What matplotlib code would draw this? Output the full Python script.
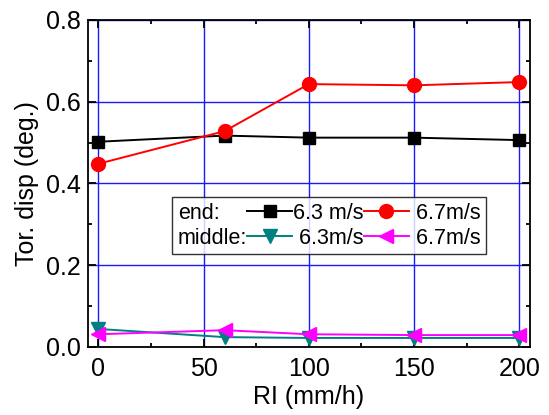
import numpy
import matplotlib
matplotlib.use('Agg')
import matplotlib.pyplot as plt
from matplotlib.lines import Line2D
from matplotlib.ticker import MultipleLocator, FormatStrFormatter

plt.rcParams['font.family'] = ['Liberation Sans', 'DejaVu Sans']

ri = [0, 60, 100, 150, 200]
end_63 = [0.502, 0.517, 0.512, 0.512, 0.506]
end_67 = [0.448, 0.528, 0.643, 0.640, 0.648]
mid_63 = [0.044, 0.024, 0.022, 0.022, 0.022]
mid_67 = [0.031, 0.041, 0.031, 0.029, 0.029]

fig = plt.figure(figsize=(5.49, 4.15), dpi=100)
ax = fig.add_axes([0.160, 0.164, 0.805, 0.788])

ax.grid(True, color=(0.1, 0.1, 1.0), linewidth=1.0, zorder=0)
ax.set_axisbelow(True)

l1, = ax.plot(ri, end_63, color='black', marker='s', markersize=9, linewidth=1.4)
l2, = ax.plot(ri, end_67, color='red', marker='o', markersize=10, linewidth=1.4)
l3, = ax.plot(ri, mid_63, color='#008080', marker='v', markersize=10, linewidth=1.4)
l4, = ax.plot(ri, mid_67, color='magenta', marker='<', markersize=10, linewidth=1.4)

ax.set_xlim(-5, 205)
ax.set_ylim(0, 0.8)
ax.xaxis.set_major_locator(MultipleLocator(50))
ax.xaxis.set_minor_locator(MultipleLocator(25))
ax.yaxis.set_major_locator(MultipleLocator(0.2))
ax.yaxis.set_minor_locator(MultipleLocator(0.1))
ax.yaxis.set_major_formatter(FormatStrFormatter('%.1f'))
ax.tick_params(which='both', direction='in', top=True, right=True, labelsize=18, width=1.3)
ax.tick_params(which='major', length=6)
ax.tick_params(which='minor', length=3)
ax.tick_params(axis='x', pad=7)
ax.tick_params(axis='y', pad=5)
for s in ax.spines.values():
    s.set_linewidth(1.3)

ax.set_xlabel('RI (mm/h)', fontsize=18, labelpad=3)
ax.set_ylabel('Tor. disp (deg.)', fontsize=18, labelpad=5)

blank = Line2D([], [], linestyle='none')
handles = [blank, blank, l1, l3, l2, l4]
labels = ['end:', 'middle:', '6.3 m/s', ' 6.3m/s', ' 6.7m/s', ' 6.7m/s']
leg = ax.legend(handles, labels, ncol=3, loc='upper left', bbox_to_anchor=(0.191, 0.458),
                fontsize=15.5, frameon=True, fancybox=False, edgecolor='black',
                handlelength=2.1, handletextpad=0.05, columnspacing=0.0,
                borderpad=0.25, labelspacing=0.2, borderaxespad=0)
leg.get_frame().set_linewidth(1.0)

# squeeze out the empty handle slots in front of "end:" / "middle:"
cols = leg._legend_handle_box.get_children()
for row in cols[0].get_children():
    row.get_children()[0].width = 0
    row.sep = 0

plt.savefig('out.png', dpi=100)
